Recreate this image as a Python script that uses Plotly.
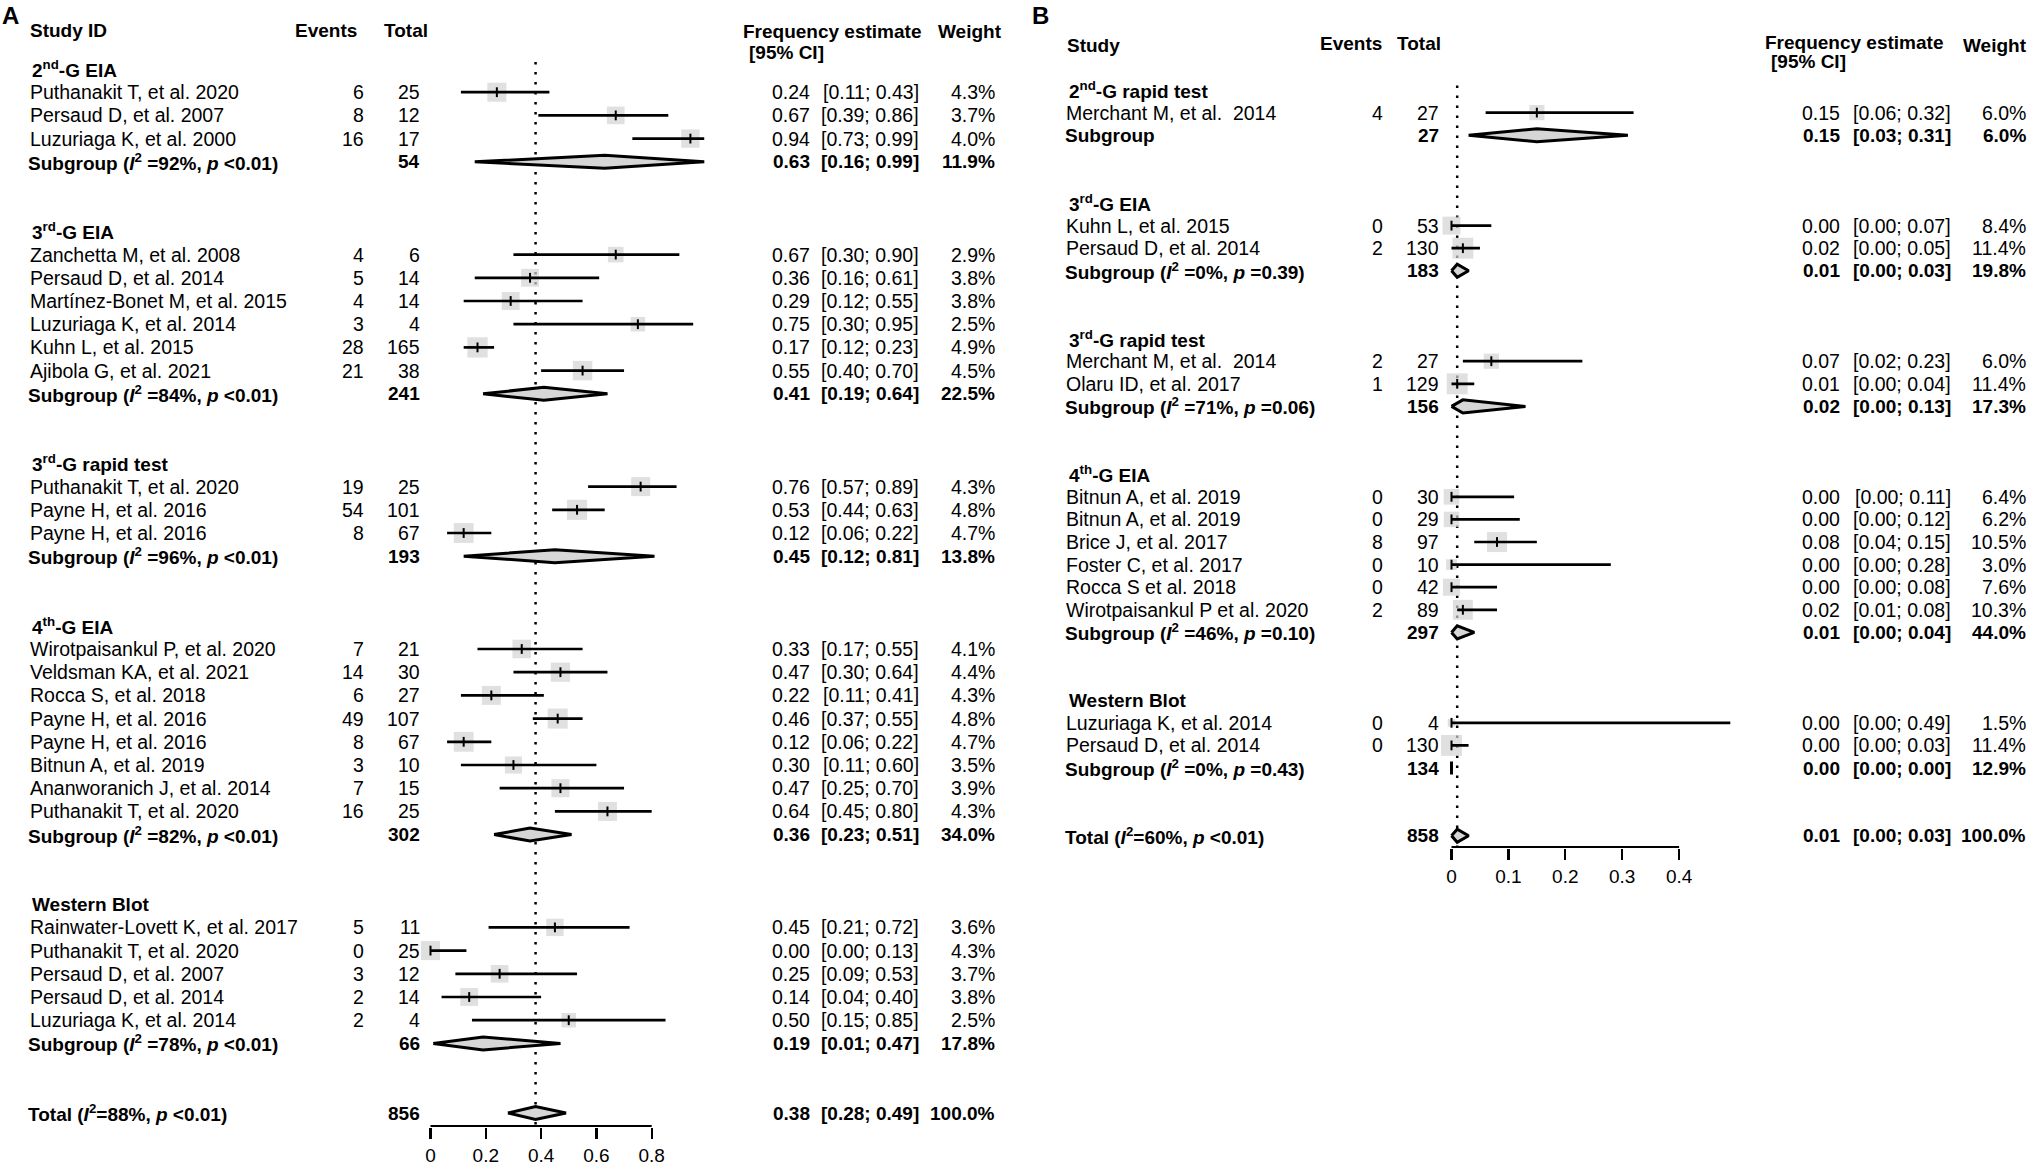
import math

import plotly.graph_objects as go

W, H = 2033, 1167
FONT = "Liberation Sans, Arial, sans-serif"
FS = 19.5
FS_BOLD = 19
SQUARE_COLOR = "#d3d3d3"
DIAMOND_FILL = "#d6d6d6"

# ---------------- panel A data ----------------
a_groups = ["2<sup>nd</sup>-G EIA", "3<sup>rd</sup>-G EIA", "3<sup>rd</sup>-G rapid test",
            "4<sup>th</sup>-G EIA", "Western Blot"]
a_group = [0, 0, 0,
           1, 1, 1, 1, 1, 1,
           2, 2, 2,
           3, 3, 3, 3, 3, 3, 3, 3,
           4, 4, 4, 4, 4]
a_study = ["Puthanakit T, et al. 2020", "Persaud D, et al. 2007", "Luzuriaga K, et al. 2000",
           "Zanchetta M, et al. 2008", "Persaud D, et al. 2014", "Martínez-Bonet M, et al. 2015",
           "Luzuriaga K, et al. 2014", "Kuhn L, et al. 2015", "Ajibola G, et al. 2021",
           "Puthanakit T, et al. 2020", "Payne H, et al. 2016", "Payne H, et al. 2016",
           "Wirotpaisankul P, et al. 2020", "Veldsman KA, et al. 2021", "Rocca S, et al. 2018",
           "Payne H, et al. 2016", "Payne H, et al. 2016", "Bitnun A, et al. 2019",
           "Ananworanich J, et al. 2014", "Puthanakit T, et al. 2020",
           "Rainwater-Lovett K, et al. 2017", "Puthanakit T, et al. 2020", "Persaud D, et al. 2007",
           "Persaud D, et al. 2014", "Luzuriaga K, et al. 2014"]
a_events = [6, 8, 16, 4, 5, 4, 3, 28, 21, 19, 54, 8, 7, 14, 6, 49, 8, 3, 7, 16, 5, 0, 3, 2, 2]
a_total = [25, 12, 17, 6, 14, 14, 4, 165, 38, 25, 101, 67, 21, 30, 27, 107, 67, 10, 15, 25,
           11, 25, 12, 14, 4]
a_est = [0.24, 0.67, 0.94, 0.67, 0.36, 0.29, 0.75, 0.17, 0.55, 0.76, 0.53, 0.12, 0.33, 0.47,
         0.22, 0.46, 0.12, 0.30, 0.47, 0.64, 0.45, 0.00, 0.25, 0.14, 0.50]
a_lo = [0.11, 0.39, 0.73, 0.30, 0.16, 0.12, 0.30, 0.12, 0.40, 0.57, 0.44, 0.06, 0.17, 0.30,
        0.11, 0.37, 0.06, 0.11, 0.25, 0.45, 0.21, 0.00, 0.09, 0.04, 0.15]
a_hi = [0.43, 0.86, 0.99, 0.90, 0.61, 0.55, 0.95, 0.23, 0.70, 0.89, 0.63, 0.22, 0.55, 0.64,
        0.41, 0.55, 0.22, 0.60, 0.70, 0.80, 0.72, 0.13, 0.53, 0.40, 0.85]
a_weight = [4.3, 3.7, 4.0, 2.9, 3.8, 3.8, 2.5, 4.9, 4.5, 4.3, 4.8, 4.7, 4.1, 4.4, 4.3, 4.8,
            4.7, 3.5, 3.9, 4.3, 3.6, 4.3, 3.7, 3.8, 2.5]
a_sub_i2 = [92, 84, 96, 82, 78]
a_sub_p = ["<0.01", "<0.01", "<0.01", "<0.01", "<0.01"]
a_sub_total = [54, 241, 193, 302, 66]
a_sub_est = [0.63, 0.41, 0.45, 0.36, 0.19]
a_sub_lo = [0.16, 0.19, 0.12, 0.23, 0.01]
a_sub_hi = [0.99, 0.64, 0.81, 0.51, 0.47]
a_sub_weight = [11.9, 22.5, 13.8, 34.0, 17.8]
a_all = dict(i2=88, p="<0.01", total=856, est=0.38, lo=0.28, hi=0.49, weight=100.0)
a_ticks = [0, 0.2, 0.4, 0.6, 0.8]

# ---------------- panel B data ----------------
b_groups = ["2<sup>nd</sup>-G rapid test", "3<sup>rd</sup>-G EIA", "3<sup>rd</sup>-G rapid test",
            "4<sup>th</sup>-G EIA", "Western Blot"]
b_group = [0,
           1, 1,
           2, 2,
           3, 3, 3, 3, 3, 3,
           4, 4]
b_study = ["Merchant M, et al.&nbsp; 2014",
           "Kuhn L, et al. 2015", "Persaud D, et al. 2014",
           "Merchant M, et al.&nbsp; 2014", "Olaru ID, et al. 2017",
           "Bitnun A, et al. 2019", "Bitnun A, et al. 2019", "Brice J, et al. 2017",
           "Foster C, et al. 2017", "Rocca S et al. 2018", "Wirotpaisankul P et al. 2020",
           "Luzuriaga K, et al. 2014", "Persaud D, et al. 2014"]
b_events = [4, 0, 2, 2, 1, 0, 0, 8, 0, 0, 2, 0, 0]
b_total = [27, 53, 130, 27, 129, 30, 29, 97, 10, 42, 89, 4, 130]
b_est = [0.15, 0.00, 0.02, 0.07, 0.01, 0.00, 0.00, 0.08, 0.00, 0.00, 0.02, 0.00, 0.00]
b_lo = [0.06, 0.00, 0.00, 0.02, 0.00, 0.00, 0.00, 0.04, 0.00, 0.00, 0.01, 0.00, 0.00]
b_hi = [0.32, 0.07, 0.05, 0.23, 0.04, 0.11, 0.12, 0.15, 0.28, 0.08, 0.08, 0.49, 0.03]
b_weight = [6.0, 8.4, 11.4, 6.0, 11.4, 6.4, 6.2, 10.5, 3.0, 7.6, 10.3, 1.5, 11.4]
b_sub_i2 = [None, 0, 71, 46, 0]
b_sub_p = [None, "=0.39", "=0.06", "=0.10", "=0.43"]
b_sub_total = [27, 183, 156, 297, 134]
b_sub_est = [0.15, 0.01, 0.02, 0.01, 0.00]
b_sub_lo = [0.03, 0.00, 0.00, 0.00, 0.00]
b_sub_hi = [0.31, 0.03, 0.13, 0.04, 0.00]
b_sub_weight = [6.0, 19.8, 17.3, 44.0, 12.9]
b_all = dict(i2=60, p="<0.01", total=858, est=0.01, lo=0.00, hi=0.03, weight=100.0)
b_ticks = [0, 0.1, 0.2, 0.3, 0.4]

# ---------------- layout of each panel (pixel geometry) ----------------
PANEL_A = dict(
    name="A", xa="x", ya="y", letter_x=0, letter_row=-2.3,
    row0=69, step=23.2, axis_py=1126, zero_px=430.5, unit_px=276.5, xrange=[-0.06, 1.04],
    label_x=28, group_x=29.5, sub_x=25.5, ev_r=366, tot_r=421.5, est_r=812, ci_r=921, w_r=997,
    head=dict(study=("Study ID", 28, -1.64), events=(359, -1.64), total=(430, -1.64),
              freq=(741, -1.6), ci=(747, -0.69), weight=(1004, -1.6)),
    square_k=9.16, dia_h=0.28, dot_top=-0.3,
)
PANEL_B = dict(
    name="B", xa="x2", ya="y2", letter_x=1030, letter_row=-3.3,
    row0=90, step=22.6, axis_py=847, zero_px=1451.5, unit_px=569.0, xrange=[-0.03, 0.52],
    label_x=1064, group_x=1067, sub_x=1063, ev_r=1385, tot_r=1441, est_r=1842, ci_r=1953, w_r=2028,
    head=dict(study=("Study", 1065, -1.99), events=(1384, -2.05), total=(1443, -2.05),
              freq=(1763, -2.12), ci=(1769, -1.24), weight=(2029, -1.99)),
    square_k=6.2, dia_h=0.29, dot_top=-0.2,
)


def txt(text, px, row, yref, anchor, bold=False, size=None):
    if size is None:
        size = FS_BOLD if bold else FS
    return dict(
        text=f"<b>{text}</b>" if bold else text,
        x=px / W, xref="paper", y=row, yref=yref,
        xanchor=anchor, yanchor="middle", showarrow=False,
        font=dict(family=FONT, size=size, color="black"),
    )


def het_label(prefix, i2, p, space=" "):
    if i2 is None:
        return prefix
    p = p.replace("<", "&lt;")
    return f"{prefix} (<i>I</i><sup>2</sup>{space}={i2}%, <i>p</i> {p})"


def add_panel(fig, P, groups, group, study, events, total, est, lo, hi, weight,
              sub_i2, sub_p, sub_total, sub_est, sub_lo, sub_hi, sub_weight, overall, ticks):
    xa, ya = P["xa"], P["ya"]
    ann = []

    # row bookkeeping: header, studies, subgroup, two blank rows
    head_rows, study_rows, sub_rows = [], [], []
    r = 0
    for g in range(len(groups)):
        head_rows.append(r)
        r += 1
        for gi in group:
            if gi == g:
                study_rows.append(r)
                r += 1
        sub_rows.append(r)
        r += 3
    total_row = r
    axis_row = (P["axis_py"] - P["row0"]) / P["step"]

    # reference line at the pooled estimate
    fig.add_trace(go.Scatter(
        x=[overall["est"], overall["est"]], y=[P["dot_top"], axis_row],
        mode="lines", line=dict(color="black", width=2.5, dash="2.5px,7.5px"),
        xaxis=xa, yaxis=ya, hoverinfo="skip", showlegend=False))

    # study squares (area ~ weight)
    fig.add_trace(go.Scatter(
        x=est, y=study_rows, mode="markers",
        marker=dict(symbol="square", color=SQUARE_COLOR, line_width=0,
                    size=[P["square_k"] * math.sqrt(w) for w in weight]),
        xaxis=xa, yaxis=ya, hoverinfo="skip", showlegend=False, cliponaxis=False))

    # confidence intervals
    cx, cy = [], []
    for l, h, rr in zip(lo, hi, study_rows):
        cx += [l, h, None]
        cy += [rr, rr, None]
    fig.add_trace(go.Scatter(
        x=cx, y=cy, mode="lines", line=dict(color="black", width=2.7),
        xaxis=xa, yaxis=ya, hoverinfo="skip", showlegend=False))

    # point estimate tick
    fig.add_trace(go.Scatter(
        x=est, y=study_rows, mode="markers",
        marker=dict(symbol="line-ns", size=7, line=dict(color="black", width=2)),
        xaxis=xa, yaxis=ya, hoverinfo="skip", showlegend=False, cliponaxis=False))

    # diamonds
    dh = P["dia_h"]
    dia = list(zip(sub_est, sub_lo, sub_hi, sub_rows))
    dia.append((overall["est"], overall["lo"], overall["hi"], total_row))
    for e, l, h, rr in dia:
        fig.add_trace(go.Scatter(
            x=[l, e, h, e, l], y=[rr, rr - dh, rr, rr + dh, rr],
            mode="lines", fill="toself", fillcolor=DIAMOND_FILL,
            line=dict(color="black", width=3),
            xaxis=xa, yaxis=ya, hoverinfo="skip", showlegend=False))

    # axis line spanning the tick range only
    fig.add_trace(go.Scatter(
        x=[ticks[0], ticks[-1]], y=[axis_row, axis_row], mode="lines",
        line=dict(color="black", width=2.2),
        xaxis=xa, yaxis=ya, hoverinfo="skip", showlegend=False))

    # ---- text columns ----
    hd = P["head"]
    ann.append(txt(P["name"], P["letter_x"], P["letter_row"], ya, "left", bold=True, size=24))
    ann.append(txt(hd["study"][0], hd["study"][1], hd["study"][2], ya, "left", bold=True))
    ann.append(txt("Events", hd["events"][0], hd["events"][1], ya, "right", bold=True))
    ann.append(txt("Total", hd["total"][0], hd["total"][1], ya, "right", bold=True))
    ann.append(txt("Frequency estimate", hd["freq"][0], hd["freq"][1], ya, "left", bold=True))
    ann.append(txt("[95% CI]", hd["ci"][0], hd["ci"][1], ya, "left", bold=True))
    ann.append(txt("Weight", hd["weight"][0], hd["weight"][1], ya, "right", bold=True))

    for g, rr in zip(groups, head_rows):
        ann.append(txt(g, P["group_x"], rr, ya, "left", bold=True))

    for i, rr in enumerate(study_rows):
        ann.append(txt(study[i], P["label_x"], rr, ya, "left"))
        ann.append(txt(str(events[i]), P["ev_r"], rr, ya, "right"))
        ann.append(txt(str(total[i]), P["tot_r"], rr, ya, "right"))
        ann.append(txt(f"{est[i]:.2f}", P["est_r"], rr, ya, "right"))
        ann.append(txt(f"[{lo[i]:.2f}; {hi[i]:.2f}]", P["ci_r"], rr, ya, "right"))
        ann.append(txt(f"{weight[i]:.1f}%", P["w_r"], rr, ya, "right"))

    rows = [(het_label("Subgroup", sub_i2[g], sub_p[g]), sub_total[g], sub_est[g], sub_lo[g],
             sub_hi[g], sub_weight[g], sub_rows[g]) for g in range(len(groups))]
    rows.append((het_label("Total", overall["i2"], overall["p"], space=""), overall["total"],
                 overall["est"], overall["lo"], overall["hi"], overall["weight"], total_row))
    for lab, tot, e, l, h, w, rr in rows:
        ann.append(txt(lab, P["sub_x"], rr, ya, "left", bold=True))
        ann.append(txt(str(tot), P["tot_r"], rr, ya, "right", bold=True))
        ann.append(txt(f"{e:.2f}", P["est_r"], rr, ya, "right", bold=True))
        ann.append(txt(f"[{l:.2f}; {h:.2f}]", P["ci_r"], rr, ya, "right", bold=True))
        ann.append(txt(f"{w:.1f}%", P["w_r"], rr, ya, "right", bold=True))

    # axes geometry (no automargin so the pixel layout stays fixed)
    x0 = (P["zero_px"] + P["xrange"][0] * P["unit_px"]) / W
    x1 = (P["zero_px"] + P["xrange"][1] * P["unit_px"]) / W
    y_bottom = (P["axis_py"] + 1 - P["row0"]) / P["step"]
    y_top = (0 - P["row0"]) / P["step"]
    xaxis = dict(
        domain=[x0, x1], range=P["xrange"], anchor=ya, automargin=False,
        showgrid=False, zeroline=False, showline=False,
        ticks="outside", ticklen=11, tickwidth=2.2, tickcolor="black",
        tickvals=ticks, ticktext=[f"{t:g}" for t in ticks],
        tickfont=dict(family=FONT, size=19, color="black"), ticklabelstandoff=0,
        fixedrange=True,
    )
    yaxis = dict(
        domain=[1 - (P["axis_py"] + 1) / H, 1], range=[y_bottom, y_top], anchor=xa,
        visible=False, fixedrange=True, automargin=False,
    )
    return ann, xaxis, yaxis


fig = go.Figure()
ann_a, xa_a, ya_a = add_panel(fig, PANEL_A, a_groups, a_group, a_study, a_events, a_total, a_est,
                              a_lo, a_hi, a_weight, a_sub_i2, a_sub_p, a_sub_total, a_sub_est,
                              a_sub_lo, a_sub_hi, a_sub_weight, a_all, a_ticks)
ann_b, xa_b, ya_b = add_panel(fig, PANEL_B, b_groups, b_group, b_study, b_events, b_total, b_est,
                              b_lo, b_hi, b_weight, b_sub_i2, b_sub_p, b_sub_total, b_sub_est,
                              b_sub_lo, b_sub_hi, b_sub_weight, b_all, b_ticks)

fig.update_layout(
    width=W, height=H, autosize=False,
    margin=dict(l=0, r=0, t=0, b=0, pad=0, autoexpand=False),
    paper_bgcolor="white", plot_bgcolor="rgba(0,0,0,0)",
    showlegend=False,
    xaxis=xa_a, yaxis=ya_a, xaxis2=xa_b, yaxis2=ya_b,
    annotations=ann_a + ann_b,
    font=dict(family=FONT, size=FS, color="black"),
)

fig.write_html(
    "out.html",
    config={"displayModeBar": False, "staticPlot": True},
    post_script="document.body.style.margin='0';document.body.style.overflow='hidden';",
)
